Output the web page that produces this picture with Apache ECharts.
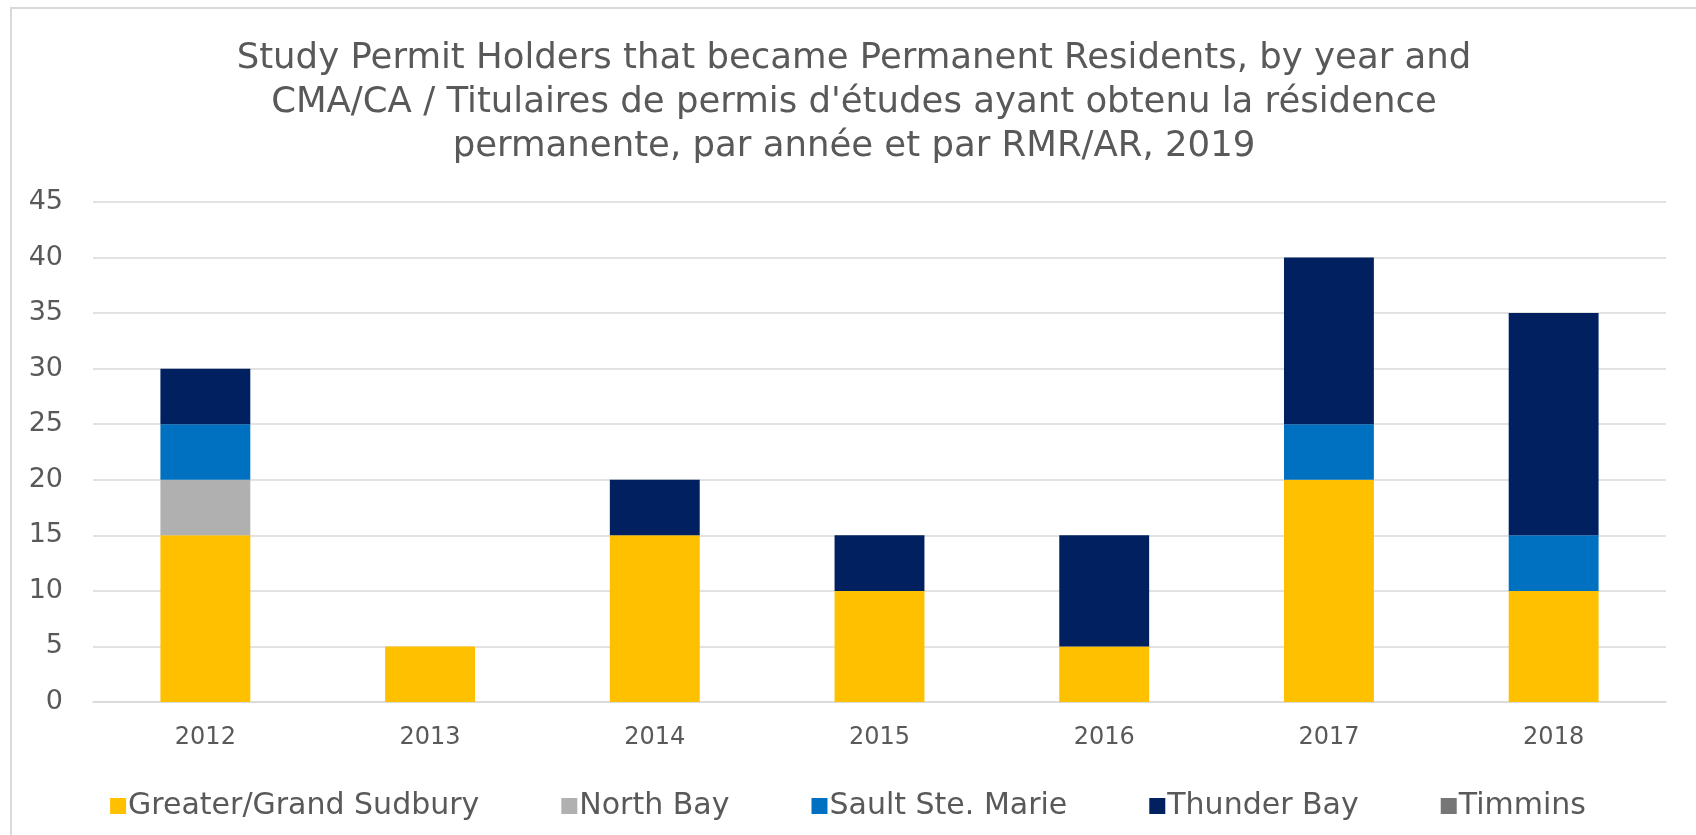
<!DOCTYPE html>
<html>
<head>
<meta charset="utf-8">
<script src="https://cdn.jsdelivr.net/npm/echarts@6/dist/echarts.min.js"></script>
<style>
  html, body { margin: 0; padding: 0; background: #fff; }
  #frame { position: absolute; left: 10px; top: 7px; width: 1700px; height: 840px; border-top: 2px solid #d9d9d9; border-left: 2px solid #d9d9d9; }
  #chart { position: absolute; left: 0; top: 0; width: 1696px; height: 835px; }
</style>
</head>
<body>
<div id="frame"></div>
<div id="chart"></div>
<script>
const years = ['2012', '2013', '2014', '2015', '2016', '2017', '2018'];
const sudbury = [15, 5, 15, 10, 5, 20, 10];
const northBay = [5, 0, 0, 0, 0, 0, 0];
const saultSteMarie = [5, 0, 0, 0, 0, 5, 5];
const thunderBay = [5, 0, 5, 5, 10, 15, 20];
const timmins = [0, 0, 0, 0, 0, 0, 0];

const font = 'DejaVu Sans';
const textColor = '#595959';

function bar(name, data, color) {
  return {
    name: name,
    type: 'bar',
    stack: 'total',
    data: data,
    barWidth: '40%',
    itemStyle: { color: color },
    emphasis: { disabled: true }
  };
}

const chart = echarts.init(document.getElementById('chart'));
chart.setOption({
  animation: false,
  textStyle: { fontFamily: font },
  title: {
    text: 'Study Permit Holders that became Permanent Residents, by year and\nCMA/CA / Titulaires de permis d\'études ayant obtenu la résidence\npermanente, par année et par RMR/AR, 2019',
    left: 849,
    textAlign: 'center',
    top: 32,
    textStyle: { fontFamily: font, fontSize: 35.5, fontWeight: 'normal', color: textColor, lineHeight: 44 }
  },
  legend: {
    bottom: 9,
    left: 'center',
    itemWidth: 16,
    itemHeight: 16,
    itemGap: 82,
    icon: 'rect',
    textStyle: { fontFamily: font, fontSize: 30, color: textColor, padding: [0, 0, 0, -3] },
    data: ['Greater/Grand Sudbury', 'North Bay', 'Sault Ste. Marie', 'Thunder Bay', 'Timmins']
  },
  grid: { left: 93, right: 30, top: 202, bottom: 133 },
  xAxis: {
    type: 'category',
    data: years,
    axisTick: { show: false },
    axisLine: { lineStyle: { color: '#d9d9d9', width: 1.5 } },
    axisLabel: { color: textColor, fontSize: 24, margin: 24, fontFamily: font }
  },
  yAxis: {
    type: 'value',
    min: 0,
    max: 45,
    interval: 5,
    axisLabel: { color: textColor, fontSize: 27, margin: 30, fontFamily: font },
    splitLine: { lineStyle: { color: '#d9d9d9', width: 1.5 } }
  },
  series: [
    bar('Greater/Grand Sudbury', sudbury, '#FFC000'),
    bar('North Bay', northBay, '#B0B0B0'),
    bar('Sault Ste. Marie', saultSteMarie, '#0070C0'),
    bar('Thunder Bay', thunderBay, '#002060'),
    bar('Timmins', timmins, '#767676')
  ]
});
</script>
</body>
</html>
